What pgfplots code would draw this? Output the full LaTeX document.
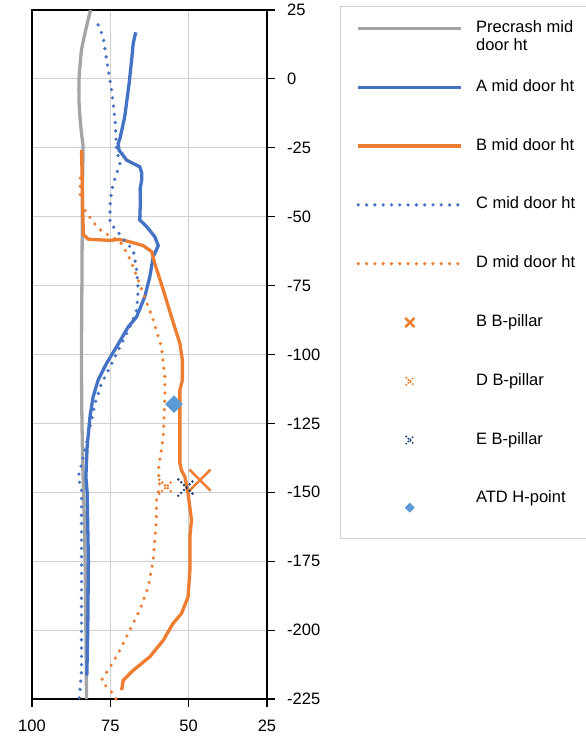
\documentclass[border=0pt]{standalone}
\usepackage{fontspec}
\setmainfont{Liberation Sans}
\usepackage{pgfplots}
\pgfplotsset{compat=1.18}
\definecolor{xblue}{HTML}{4472C4}
\definecolor{xorange}{HTML}{ED7D31}
\definecolor{xgray}{HTML}{A5A5A5}
\definecolor{xnavy}{HTML}{264478}
\definecolor{xlblue}{HTML}{5B9BD5}
\definecolor{gridgray}{HTML}{D0D0D0}
\definecolor{leggray}{HTML}{D0D0D0}
\newcommand\lfont{\fontsize{16.5bp}{18bp}\selectfont}
\begin{document}
\begin{tikzpicture}
\begin{axis}[
  scale only axis, width=235bp, height=689bp,
  x dir=reverse, xmin=25, xmax=100, ymin=-225, ymax=25,
  xtick={25,50,75,100}, ytick={-225,-200,-175,-150,-125,-100,-75,-50,-25,0,25},
  yticklabels={{-225},{-200},{-175},{-150},{-125},{-100},{-75},{-50},{-25},{0},{25}},
  grid=major, major grid style={draw=gridgray, line width=1bp},
  axis line style={black, line width=1.2bp},
  tick style={black, line width=1.2bp},
  tick align=outside, major tick length=8bp,
  xtick pos=bottom, ytick pos=right, yticklabel pos=right,
  /pgf/number format/assume math mode=true,
  ticklabel style={font=\lfont, inner sep=0pt},
  xticklabel style={yshift=-13bp},
  yticklabel style={xshift=12bp},
  legend style={at={(1.3106,1.0058)}, anchor=north west, draw=leggray, line width=1bp,
    inner xsep=16bp, inner ysep=14bp, row sep=42.8bp, column sep=13bp,
    font=\lfont, nodes={inner sep=0pt, text height=12bp, text depth=4bp}},
  legend cell align=left,
  legend image code/.code={\draw[mark repeat=2,mark phase=2,#1] plot coordinates {(0bp,0bp)(51.5bp,0bp)(103bp,0bp)};},
  clip=false,
]
% Precrash
\addplot[xgray, line width=3.3bp, no marks, smooth] coordinates {
(81.3,25) (82.1,21.4) (83.1,16.5) (84.2,10.5) (84.7,4.4) (85.0,-0.4) (85.0,-7.7) (84.7,-13.7) (84.2,-19.8) (83.8,-23.4) (83.7,-25.5)
(83.9,-40) (84.0,-60) (84.1,-80) (84.2,-100) (84.1,-120) (83.8,-140) (83.3,-160) (83.0,-180) (82.8,-200) (82.6,-225)};
\addlegendentry{\smash{\vtop{\hbox{Precrash mid}\hbox{door ht}}}}
% A
\addplot[xblue, line width=3.3bp, no marks] coordinates {
(66.9,16.9) (67.7,12.9) (68.2,6.8) (69.0,-1.6) (70.4,-13.7) (71.9,-21.5) (72.5,-23.5) (72.2,-26) (71.4,-27) (69.8,-29.5) (67.5,-30.8) (65.6,-31.9) (65.0,-34) (65.0,-36.7) (65.5,-40) (65.4,-44) (65.6,-51.2) (63.4,-53.6) (60.8,-57.3) (59.7,-60.5)
(61.3,-64.5) (62.4,-71.8) (64.0,-79) (66.6,-86.3) (69.3,-90) (73.0,-97.2) (76.2,-103.2) (78.9,-109.3) (80.5,-115.4) (81.5,-122.6) (82.4,-133.5) (82.8,-144.4)
(82.4,-150) (82.0,-175) (82.2,-200) (82.5,-216.5)};
\addlegendentry{A mid door ht}
% B
\addplot[xorange, line width=3.3bp, no marks] coordinates {
(84.2,-25.8) (84.0,-35) (83.9,-44) (83.6,-56.5) (82.0,-58.2) (78.3,-58.4) (75.1,-58.6) (72.5,-58.3) (70.9,-58.5) (68.8,-59.1) (64.5,-60.5) (61.8,-62.7) (60.8,-67) (58.1,-76.6) (55.5,-86.3) (52.8,-96) (52.0,-102) (52.0,-109.3) (52.8,-112.9) (52.8,-120.2) (52.8,-127.4) (52.8,-139.5) (52.3,-142) (51.2,-144.4) (50.2,-150.4) (49.1,-160) (49.6,-166.2) (49.6,-178.3) (50.2,-188) (52.3,-194) (55.0,-197.6) (58.1,-203.7) (62.4,-209.7) (67.7,-214.6) (70.9,-218.2) (71.4,-221.8)};
\addlegendentry{B mid door ht}
% C
\addplot[xblue, line width=3.6bp, line cap=round, dash pattern=on 0bp off 8.3bp, no marks] coordinates {
(78.9,19.6) (77.3,15.3) (76.2,6.9) (74.6,-4) (73.5,-15) (73.0,-25.8) (71.9,-30.6) (73.0,-34.3) (74.6,-40.3) (75.1,-46.4) (75.1,-52.4) (73.0,-54.9) (69.8,-59.7) (67.7,-62) (66.6,-69.4) (66.1,-76.6) (66.6,-83.9) (68.2,-88.7) (70.9,-94.8) (75.1,-104.5) (77.8,-110.5) (79.9,-117.8) (81.7,-127.4) (83.1,-134.7) (84.7,-142) (85.2,-144.4) (84.2,-149.2) (84.2,-175) (84.2,-200) (84.2,-215) (84.9,-225)};
\addlegendentry{C mid door ht}
% D
\addplot[xorange, line width=3.6bp, line cap=round, dash pattern=on 0bp off 8.3bp, no marks] coordinates {
(84.6,-36) (84.6,-42) (83.0,-48) (81.0,-51) (79.4,-53.5) (77.5,-55.5) (71.9,-59) (69.3,-64) (67.7,-68.2) (64.5,-77.8) (61.3,-87.5) (58.7,-97.2) (57.6,-108.1) (57.6,-115.4) (58.1,-129.9) (59.7,-142) (59.2,-148) (60.3,-152.9) (60.3,-160) (61.3,-174.6) (62.9,-184.3) (65.6,-192.8) (68.8,-200) (72.5,-208.5) (75.1,-213.4) (77.8,-218.2) (76.2,-220.6) (74.1,-223) (73.0,-225.5)};
\addlegendentry{D mid door ht}
% markers
\addplot[xorange, only marks, mark=x, mark size=15bp, mark options={line width=2.5bp},
  legend image post style={mark size=6.5bp, mark options={line width=2.5bp}}] coordinates {(46.4,-145.6)};
\addlegendentry{B B-pillar}
\addplot[xorange, only marks, mark=x, mark size=10bp, mark options={line width=2.8bp, line cap=round, dash pattern=on 0bp off 4bp},
  legend image post style={mark size=5bp, mark options={line width=2.2bp, line cap=round, dash pattern=on 0bp off 3bp}}] coordinates {(57.1,-148)};
\addlegendentry{D B-pillar}
\addplot[xnavy, only marks, mark=x, mark size=11.5bp, mark options={line width=2.8bp, line cap=round, dash pattern=on 0bp off 4bp},
  legend image post style={mark size=5bp, mark options={line width=2.2bp, line cap=round, dash pattern=on 0bp off 3bp}}] coordinates {(50.7,-148.3)};
\addlegendentry{E B-pillar}
\addplot[xlblue, only marks, mark=square*, mark size=6bp, mark options={rotate=45, draw=xlblue, fill=xlblue},
  legend image post style={mark size=3bp}] coordinates {(54.7,-118)};
\addlegendentry[text depth=21.5bp]{ATD H-point}
\end{axis}
\pgfresetboundingbox
\path (-32bp,-39bp) rectangle (554bp,699bp);
\end{tikzpicture}
\end{document}
